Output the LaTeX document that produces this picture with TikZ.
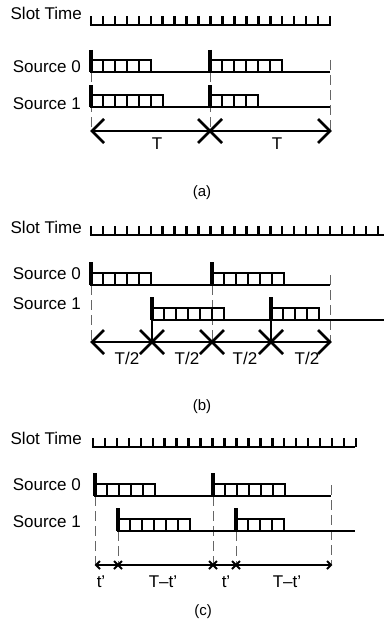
\documentclass[tikz,border=0pt]{standalone}
\usepackage{fontspec}
\setmainfont{Liberation Sans}
\tikzset{
  lbl/.style={font=\fontsize{17}{19}\selectfont, inner sep=0pt},
  rowlbl/.style={lbl, anchor=base east},
  caplbl/.style={font=\fontsize{15}{17}\selectfont, inner sep=0pt},
  thickln/.style={line width=2.7pt},
  startln/.style={line width=3.4pt},
  tickln/.style={line width=2.5pt},
  guide/.style={line width=1pt, black!60, dash pattern=on 10pt off 5pt},
  thinln/.style={line width=1.1pt},
  arrowln/.style={line width=2.6pt},
  smallln/.style={line width=2.2pt},
  pics/lbarb/.style args={#1}{code={\draw[line width=2.6pt] (#1,-#1) -- (0,0) -- (#1,#1);}},
  pics/rbarb/.style args={#1}{code={\draw[line width=2.6pt] (-#1,-#1) -- (0,0) -- (-#1,#1);}},
  pics/xbarb/.style args={#1}{code={\draw[line width=2.6pt] (-#1,-#1) -- (#1,#1) (-#1,#1) -- (#1,-#1);}},
  pics/slbarb/.style args={#1}{code={\draw[line width=2pt] (#1,-#1) -- (0,0) -- (#1,#1);}},
  pics/srbarb/.style args={#1}{code={\draw[line width=2pt] (-#1,-#1) -- (0,0) -- (-#1,#1);}},
  pics/sxbarb/.style args={#1}{code={\draw[line width=2pt] (-#1,-#1) -- (#1,#1) (-#1,#1) -- (#1,-#1);}},
}
\newcommand{\slotrow}[4]{%
  \draw[line width=2.8pt] (#1-1.2,#2) -- (#4,#2);
  \foreach \k in {1,...,#3} \draw[tickln] ({#1+(\k-1)*11.95},#2) -- ++(0,-9);
}
\newcommand{\burst}[4]{%
  \draw[startln] (#1,#4) -- (#1,#2);
  \foreach \k in {1,...,#3} \draw[thickln] ({#1+(\k-1)*12},#2) rectangle ++(12,-12);
}
\begin{document}
\begin{tikzpicture}[x=1pt, y=-1pt]
\useasboundingbox (0,0) rectangle (384,626);

% ---------- (a) ----------
\node[rowlbl] (slotA) at (82,20) {Slot Time};
\slotrow{91}{25}{21}{330.5}
\node[rowlbl] (srcA0) at (81,72) {Source 0};
\node[rowlbl] (srcA1) at (81,109) {Source 1};
\draw[guide] (91,72) -- (91,131);
\draw[guide] (210,72) -- (210,131);
\draw[guide] (330,60) -- (330,131);
\draw[thickln] (91,72) -- (330,72);
\draw[thickln] (91,107) -- (330,107);
\burst{91}{72}{5}{50}
\burst{210}{72}{6}{50}
\burst{91}{107}{6}{85}
\burst{210}{107}{4}{85}
\coordinate (a0) at (92,131);
\coordinate (a1) at (210,131);
\coordinate (a2) at (330,131);
\draw[arrowln] (a0) -- (a1) -- (a2);
\pic at (a0) {lbarb=12};
\pic at (a1) {xbarb=12};
\pic at (a2) {rbarb=12};
\node[lbl] (ta1) at (157,144) {T};
\node[lbl] (ta2) at (277,144) {T};
\node[caplbl] (capA) at (202,193) {(a)};

% ---------- (b) ----------
\node[rowlbl] (slotB) at (82,233) {Slot Time};
\slotrow{91}{235}{25}{384}
\node[rowlbl] (srcB0) at (81,279) {Source 0};
\node[rowlbl] (srcB1) at (81,309) {Source 1};
\draw[guide] (91,285) -- (91,342);
\draw[guide] (212,285) -- (212,342);
\draw[guide] (330,275) -- (330,342);
\draw[thinln] (152,320) -- (152,342);
\draw[thinln] (271,320) -- (271,342);
\draw[thickln] (91,285) -- (330,285);
\draw[thickln] (152,320) -- (384,320);
\burst{91}{285}{5}{262}
\burst{212}{285}{6}{262}
\burst{152}{320}{6}{297}
\burst{271}{320}{4}{297}
\coordinate (b0) at (92,342);
\coordinate (b1) at (152,342);
\coordinate (b2) at (212,342);
\coordinate (b3) at (271,342);
\coordinate (b4) at (330,342);
\draw[arrowln] (b0) -- (b1) -- (b2) -- (b3) -- (b4);
\pic at (b0) {lbarb=12};
\pic at (b1) {xbarb=12};
\pic at (b2) {xbarb=12};
\pic at (b3) {xbarb=12};
\pic at (b4) {rbarb=12};
\node[lbl] (tb1) at (127,358) {T/2};
\node[lbl] (tb2) at (187,358) {T/2};
\node[lbl] (tb3) at (245,358) {T/2};
\node[lbl] (tb4) at (307,358) {T/2};
\node[caplbl] (capB) at (202,407) {(b)};

% ---------- (c) ----------
\node[rowlbl] (slotC) at (82,444) {Slot Time};
\slotrow{93}{447}{23}{355}
\node[rowlbl] (srcC0) at (81,490.5) {Source 0};
\node[rowlbl] (srcC1) at (81,527) {Source 1};
\draw[guide] (95,496) -- (95,565);
\draw[guide] (213,496) -- (213,565);
\draw[guide] (331,485) -- (331,565);
\draw[guide] (118,531) -- (118,565);
\draw[guide] (236,531) -- (236,565);
\draw[thickln] (95,496) -- (331,496);
\draw[thickln] (118,531) -- (355,531);
\burst{95}{496}{5}{473}
\burst{213}{496}{6}{473}
\burst{118}{531}{6}{508}
\burst{236}{531}{4}{508}
\coordinate (c0) at (96,565);
\coordinate (c1) at (118,565);
\coordinate (c2) at (213,565);
\coordinate (c3) at (236,565);
\coordinate (c4) at (331,565);
\draw[smallln] (c0) -- (c1) -- (c2) -- (c3) -- (c4);
\pic at (c0) {slbarb=4};
\pic at (c1) {sxbarb=4};
\pic at (c2) {sxbarb=4};
\pic at (c3) {sxbarb=4};
\pic at (c4) {srbarb=4};
\node[lbl] (tc1) at (101,582) {t'};
\node[lbl] (tc2) at (163,582) {T--t'};
\node[lbl] (tc3) at (226,582) {t'};
\node[lbl] (tc4) at (287,582) {T--t'};
\node[caplbl] (capC) at (203,612) {(c)};
\end{tikzpicture}
\end{document}
